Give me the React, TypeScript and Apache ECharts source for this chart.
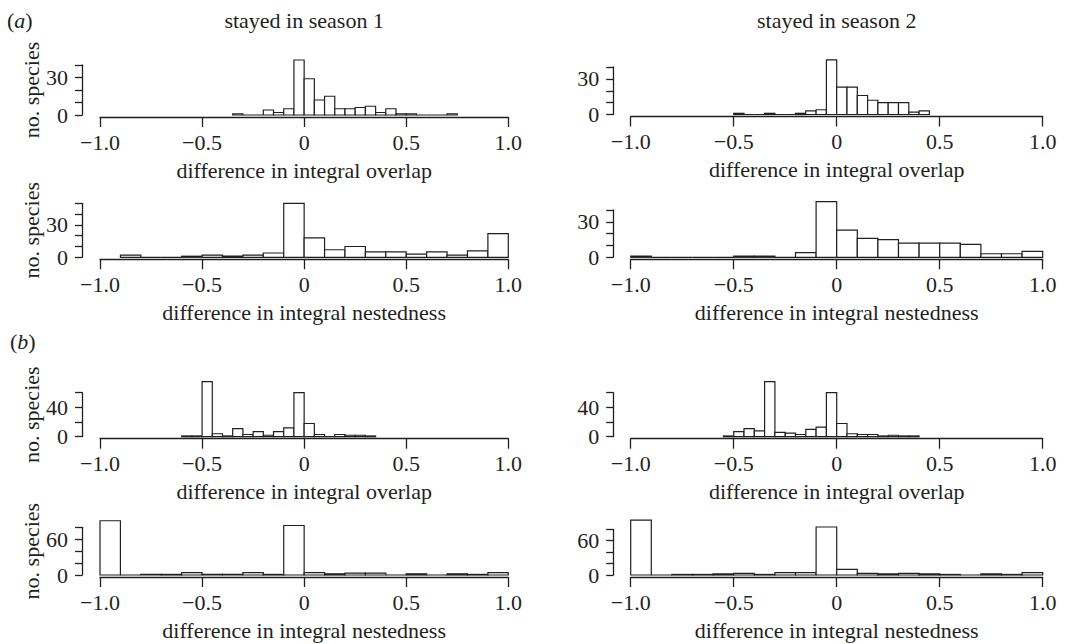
import React, { useEffect, useRef } from "react";
import * as echarts from "echarts";

// ---- data (counts) ----
const X_TICKS = [-1, -0.5, 0, 0.5, 1];
const X_TICK_LABELS = ["\u22121.0", "\u22120.5", "0", "0.5", "1.0"];

const OVERLAP_BIN = 0.05;
const NEST_BIN = 0.1;

// (a) stayed in season 1 – overlap, bins start at -0.35
const A_S1_OVERLAP_START = -0.35;
const A_S1_OVERLAP = [1, 0, 0, 4, 2, 5, 44, 29, 12, 15, 5, 5, 6, 7, 2, 5, 1, 1, 0, 0, 0, 1];
// (a) stayed in season 2 – overlap, bins start at -0.5
const A_S2_OVERLAP_START = -0.5;
const A_S2_OVERLAP = [1, 0, 0, 1, 0, 0, 1, 3, 4, 46, 23, 23, 16, 12, 10, 10, 10, 2, 3];
// (a) season 1 – nestedness, bins start at -0.9
const A_S1_NEST_START = -0.9;
const A_S1_NEST = [2, 0, 0, 1, 2, 1, 2, 4, 50, 18, 7, 10, 5, 5, 3, 5, 2, 6, 22];
// (a) season 2 – nestedness, bins start at -1.0
const A_S2_NEST_START = -1.0;
const A_S2_NEST = [1, 0, 0, 0, 0, 1, 1, 0, 4, 47, 23, 16, 15, 12, 12, 12, 11, 3, 3, 5];
// (b) season 1 – overlap, bins start at -0.6
const B_S1_OVERLAP_START = -0.6;
const B_S1_OVERLAP = [1, 1, 75, 4, 1, 11, 3, 7, 2, 7, 12, 60, 18, 3, 0, 3, 2, 2, 1];
// (b) season 2 – overlap, bins start at -0.55
const B_S2_OVERLAP_START = -0.55;
const B_S2_OVERLAP = [1, 7, 11, 8, 75, 6, 5, 3, 10, 13, 60, 18, 4, 3, 3, 1, 2, 1, 1];
// (b) season 1 – nestedness, bins start at -1.0
const B_S1_NEST_START = -1.0;
const B_S1_NEST = [91, 0, 1, 1, 4, 1, 1, 4, 1, 83, 4, 2, 3, 3, 0, 2, 0, 2, 1, 4];
// (b) season 2 – nestedness, bins start at -1.0
const B_S2_NEST_START = -1.0;
const B_S2_NEST = [96, 0, 1, 1, 2, 3, 1, 4, 4, 84, 10, 3, 2, 3, 2, 1, 0, 2, 1, 4];

const COL_TITLES = ["stayed in season 1", "stayed in season 2"];
const X_NAME_OVERLAP = "difference in integral overlap";
const X_NAME_NEST = "difference in integral nestedness";
const Y_NAME = "no. species";

// ---- layout ----
const FONT = '"Liberation Serif", "Times New Roman", serif';
const INK = "#231f20";
const COLS = [
  { left: 100, width: 408.3, yOffset: 18 },
  { left: 630.7, width: 412, yOffset: 17.5 },
];

type Panel = {
  col: number;
  top: number;
  zero: number;
  yMax: number;
  yInt: number;
  yLabels: number[];
  start: number;
  bin: number;
  counts: number[];
  xName: string;
};

const PANELS: Panel[] = [
  { col: 0, top: 65, zero: 115, yMax: 40, yInt: 10, yLabels: [0, 30], start: A_S1_OVERLAP_START, bin: OVERLAP_BIN, counts: A_S1_OVERLAP, xName: X_NAME_OVERLAP },
  { col: 1, top: 67, zero: 114.5, yMax: 40, yInt: 10, yLabels: [0, 30], start: A_S2_OVERLAP_START, bin: OVERLAP_BIN, counts: A_S2_OVERLAP, xName: X_NAME_OVERLAP },
  { col: 0, top: 203.3, zero: 257.3, yMax: 50, yInt: 10, yLabels: [0, 30], start: A_S1_NEST_START, bin: NEST_BIN, counts: A_S1_NEST, xName: X_NAME_NEST },
  { col: 1, top: 210, zero: 257.3, yMax: 40, yInt: 10, yLabels: [0, 30], start: A_S2_NEST_START, bin: NEST_BIN, counts: A_S2_NEST, xName: X_NAME_NEST },
  { col: 0, top: 392.7, zero: 436.7, yMax: 60, yInt: 20, yLabels: [0, 40], start: B_S1_OVERLAP_START, bin: OVERLAP_BIN, counts: B_S1_OVERLAP, xName: X_NAME_OVERLAP },
  { col: 1, top: 392.7, zero: 436.7, yMax: 60, yInt: 20, yLabels: [0, 40], start: B_S2_OVERLAP_START, bin: OVERLAP_BIN, counts: B_S2_OVERLAP, xName: X_NAME_OVERLAP },
  { col: 0, top: 527.3, zero: 575, yMax: 80, yInt: 20, yLabels: [0, 60], start: B_S1_NEST_START, bin: NEST_BIN, counts: B_S1_NEST, xName: X_NAME_NEST },
  { col: 1, top: 529.3, zero: 575, yMax: 80, yInt: 20, yLabels: [0, 60], start: B_S2_NEST_START, bin: NEST_BIN, counts: B_S2_NEST, xName: X_NAME_NEST },
];

function xLabel(v: number): string {
  const i = X_TICKS.findIndex((t) => Math.abs(t - v) < 1e-9);
  return i >= 0 ? X_TICK_LABELS[i] : "";
}

function buildOption() {
  const lineStyle = { color: INK, width: 1.3 };
  const textStyle = { fontFamily: FONT, fontSize: 22, color: INK };
  const grid: any[] = [];
  const xAxis: any[] = [];
  const yAxis: any[] = [];
  const series: any[] = [];

  PANELS.forEach((p, i) => {
    const c = COLS[p.col];
    grid.push({ left: c.left, width: c.width, top: p.top, height: p.zero - p.top, containLabel: false });
    xAxis.push({
      type: "value",
      gridIndex: i,
      position: "bottom",
      min: -1,
      max: 1,
      interval: 0.5,
      offset: 2,
      axisLine: { show: true, onZero: false, lineStyle },
      axisTick: { show: true, length: 10, lineStyle },
      axisLabel: { ...textStyle, margin: 14, formatter: (v: number) => xLabel(v) },
      splitLine: { show: false },
      name: p.xName,
      nameLocation: "middle",
      nameGap: 42,
      nameTextStyle: { ...textStyle },
    });
    yAxis.push({
      type: "value",
      gridIndex: i,
      position: "left",
      min: 0,
      max: p.yMax,
      interval: p.yInt,
      offset: c.yOffset,
      axisLine: { show: true, onZero: false, lineStyle },
      axisTick: { show: true, length: 7, lineStyle },
      axisLabel: {
        ...textStyle,
        margin: 14,
        formatter: (v: number) => (p.yLabels.includes(v) ? String(v) : ""),
      },
      splitLine: { show: false },
      name: p.col === 0 ? Y_NAME : "",
      nameLocation: "middle",
      nameGap: 38,
      nameRotate: 90,
      nameTextStyle: { ...textStyle },
    });
    const data = p.counts.map((n, k) => {
      const x0 = +(p.start + k * p.bin).toFixed(3);
      const x1 = +(p.start + (k + 1) * p.bin).toFixed(3);
      return [x0, x1, n];
    });
    series.push({
      type: "custom",
      xAxisIndex: i,
      yAxisIndex: i,
      clip: false,
      silent: true,
      encode: { x: [0, 1], y: 2 },
      data,
      renderItem: (_params: any, api: any) => {
        const a = api.coord([api.value(0), api.value(2)]);
        const b = api.coord([api.value(1), 0]);
        return {
          type: "rect",
          shape: { x: a[0], y: a[1], width: b[0] - a[0], height: b[1] - a[1] },
          style: { fill: "#ffffff", stroke: INK, lineWidth: 1.2 },
        };
      },
    });
  });

  const rich = {
    p: { fontFamily: FONT, fontSize: 22, fill: INK },
    i: { fontFamily: FONT, fontSize: 22, fontStyle: "italic", fill: INK },
  };

  const graphic: any[] = [
    {
      type: "text",
      x: (COLS[0].left + COLS[0].left + COLS[0].width) / 2,
      y: 20.5,
      style: { text: COL_TITLES[0], font: `22px ${FONT}`, fill: INK, align: "center", verticalAlign: "middle" },
    },
    {
      type: "text",
      x: (COLS[1].left + COLS[1].left + COLS[1].width) / 2,
      y: 20.5,
      style: { text: COL_TITLES[1], font: `22px ${FONT}`, fill: INK, align: "center", verticalAlign: "middle" },
    },
    {
      type: "text",
      x: 7,
      y: 20.5,
      style: { text: "{p|(}{i|a}{p|)}", fill: INK, align: "left", verticalAlign: "middle", rich },
    },
    {
      type: "text",
      x: 10,
      y: 341,
      style: { text: "{p|(}{i|b}{p|)}", fill: INK, align: "left", verticalAlign: "middle", rich },
    },
  ];

  return { animation: false, backgroundColor: "#ffffff", grid, xAxis, yAxis, series, graphic };
}

export default function App() {
  const ref = useRef<HTMLDivElement>(null);
  useEffect(() => {
    if (!ref.current) return;
    const chart = echarts.init(ref.current, undefined, { renderer: "svg" });
    chart.setOption(buildOption() as any);
    return () => chart.dispose();
  }, []);
  return (
    <div
      ref={ref}
      style={{ position: "fixed", left: 0, top: 0, width: 1075, height: 644, background: "#fff" }}
    />
  );
}
